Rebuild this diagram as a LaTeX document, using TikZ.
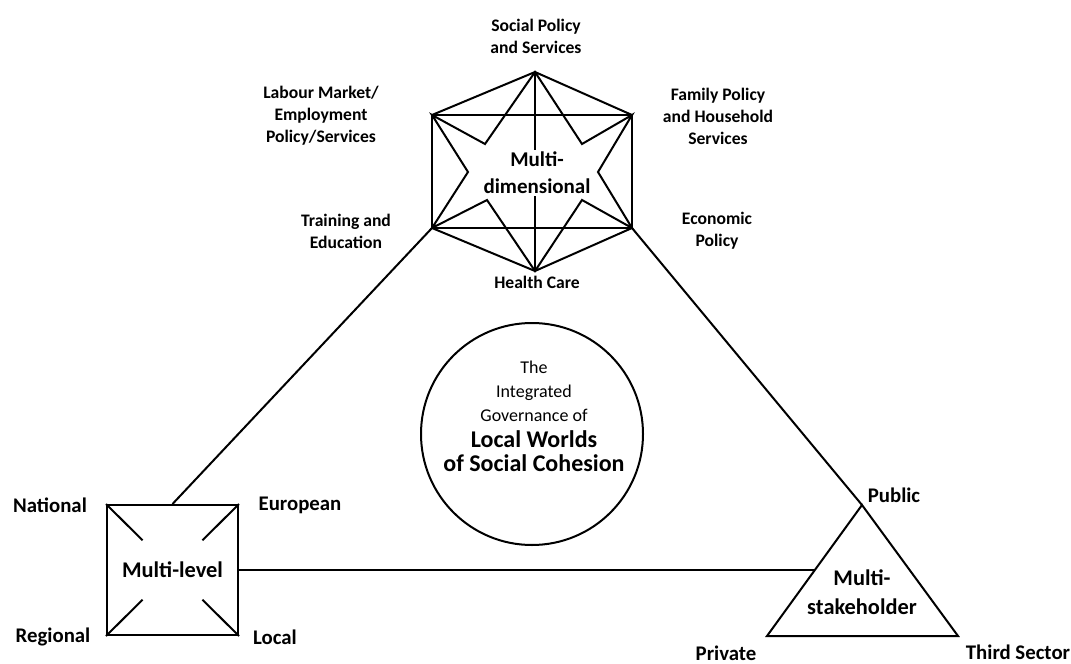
\documentclass[tikz,border=0pt]{standalone}
\usepackage{fontspec}
\setmainfont{Carlito}
\usetikzlibrary{calc}

\begin{document}
\begin{tikzpicture}[x=0.5pt,y=-0.5pt,
    line/.style={black, line width=1pt},
    lbl/.style={font=\fontsize{8.8}{11}\selectfont\bfseries, align=center, inner sep=0pt},
    corner/.style={font=\fontsize{10.4}{12}\selectfont\bfseries, inner sep=0pt},
    big/.style={font=\fontsize{10.5}{13.5}\selectfont\bfseries, align=center, inner sep=0pt}]
    \useasboundingbox (0,0) rectangle (1071,664);

    \coordinate (ht)  at (535,72);
    \coordinate (hul) at (432,115);
    \coordinate (hur) at (632,115);
    \coordinate (hll) at (432,228);
    \coordinate (hlr) at (632,228);
    \coordinate (hb)  at (535,271);
    \coordinate (iul) at (485,144);
    \coordinate (iur) at (582,144);
    \coordinate (ir)  at (598,172);
    \coordinate (ilr) at (582,200);
    \coordinate (ill) at (487,200);
    \coordinate (il)  at (468,172);

    \draw [line] (hul) rectangle (hlr);
    \draw [line] (hul) -- (ht) -- (hur);
    \draw [line] (hll) -- (hb) -- (hlr);
    \draw [line] (ht)  -- (hb);
    \draw [line] (ht) -- (iur) -- (hur) -- (ir) -- (hlr) -- (ilr) -- (hb) -- (ill) -- (hll) -- (il) -- (hul) -- (iul) -- cycle;
    \node [big, fill=white, inner sep=1pt] (mdim) at (537,173) {Multi-\\dimensional};

    \node [lbl] (socpol) at (536,36)  {Social Policy\\and Services};
    \node [lbl] (labour) at (321,116) {Labour Market/\\Employment\\Policy/Services};
    \node [lbl] (family) at (718,116) {Family Policy\\and Household\\Services};
    \node [lbl] (train)  at (346,231) {Training and\\Education};
    \node [lbl] (econ)   at (717,231) {Economic\\Policy};
    \node [lbl] (health) at (537,282) {Health Care};

    \node [draw, line, minimum width=65.5pt, minimum height=65pt, inner sep=0pt,
           font=\fontsize{11.2}{13}\selectfont\bfseries] (mlbox) at (172.5,570) {Multi-level};
    \foreach \c in {north west, north east, south west, south east}
        \draw [line] (mlbox.\c) -- ($(mlbox.\c)!0.55!(mlbox.center)$);
    \node [corner] (natl)  at (50,505)  {National};
    \node [corner] (euro)  at (300,505) {European};
    \node [corner] (regl)  at (53,637)  {Regional};
    \node [corner] (locl)  at (275,637) {Local};

    \coordinate (pub)   at (862,505);
    \coordinate (priv)  at (767,636);
    \coordinate (third) at (958,636);
    \draw [line] (pub) -- (priv) -- (third) -- cycle;
    \path (pub) -- (priv) coordinate [pos=0.496] (msl);
    \node [big, font=\fontsize{11.2}{14.5}\selectfont\bfseries] (mstake) at (862,592) {Multi-\\stakeholder};
    \node [corner] (public)  at (894,495) {Public};
    \node [corner] (private) at (726,653) {Private};
    \node [corner] (tsector) at (1018,652) {Third Sector};

    \draw [line] (hll) -- (mlbox.north);
    \draw [line] (hlr) -- (pub);
    \draw [line] (mlbox.east) -- (mlbox.east -| msl);

    \node [draw, line, circle, minimum size=111pt, inner sep=0pt] (hub) at (532,434) {};
    \node [align=center, inner sep=0pt] (hubtext) at (534,416)
        {{\fontsize{9}{11.5}\selectfont The}\\{\fontsize{9}{11.5}\selectfont Integrated}\\{\fontsize{9}{11.5}\selectfont Governance of}\\[1pt]
         {\fontsize{12}{13.5}\selectfont\bfseries Local Worlds}\\{\fontsize{12}{13.5}\selectfont\bfseries of Social Cohesion}};
\end{tikzpicture}
\end{document}
